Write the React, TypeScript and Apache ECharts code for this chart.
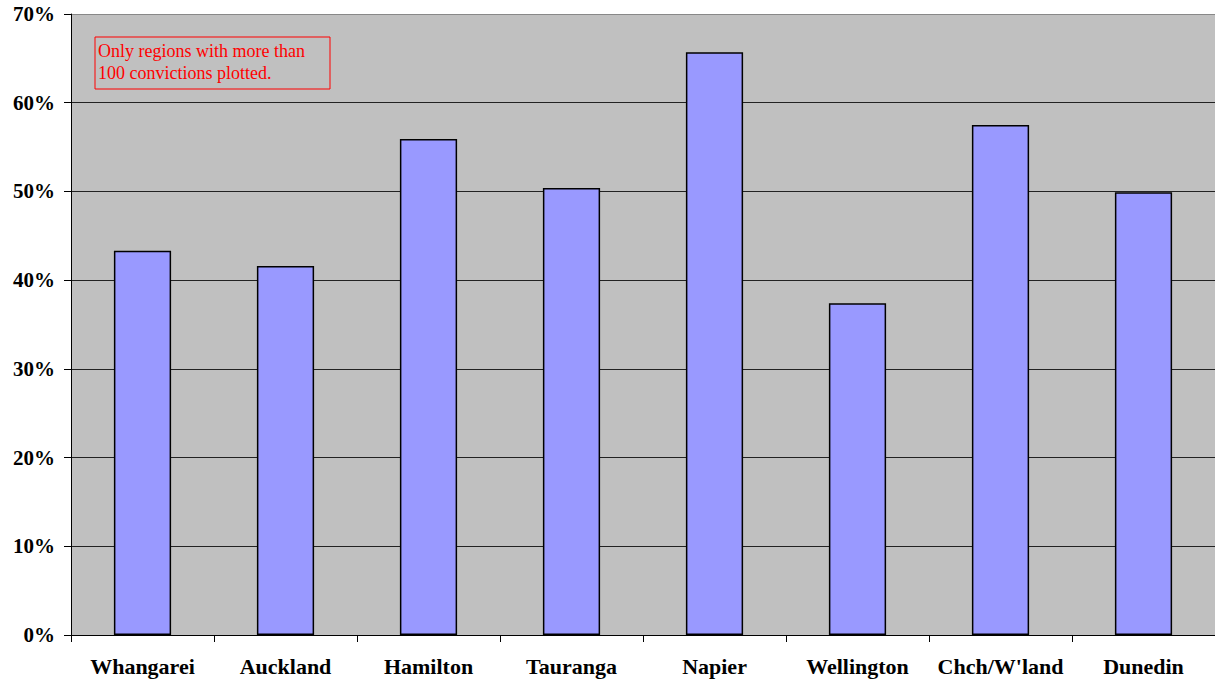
import React, { useEffect, useRef } from "react";
import * as echarts from "echarts";

const categories = ["Whangarei", "Auckland", "Hamilton", "Tauranga", "Napier", "Wellington", "Chch/W'land", "Dunedin"];
const values = [43.3, 41.6, 55.9, 50.4, 65.7, 37.4, 57.5, 49.9];
const noteLines = ["Only regions with more than", "100 convictions plotted."];

export default function App() {
  const ref = useRef<HTMLDivElement>(null);
  useEffect(() => {
    const chart = echarts.init(ref.current!, null, { renderer: "svg" });
    chart.setOption({
      animation: false,
      backgroundColor: "#ffffff",
      grid: { left: 71, right: 0, top: 14, bottom: 46, show: true, backgroundColor: "#c0c0c0", borderWidth: 0 },
      xAxis: {
        type: "category",
        data: categories,
        axisLine: { show: true, lineStyle: { color: "#000", width: 1 } },
        axisTick: { show: true, interval: 0, length: 7, lineStyle: { color: "#000" } },
        axisLabel: {
          interval: 0,
          margin: 20,
          color: "#000",
          fontFamily: "Liberation Serif",
          fontWeight: "bold",
          fontSize: 22,
        },
      },
      yAxis: {
        type: "value",
        min: 0,
        max: 70,
        interval: 10,
        axisLine: { show: true, lineStyle: { color: "#000", width: 1 } },
        axisTick: { show: true, length: 7, lineStyle: { color: "#000" } },
        axisLabel: {
          margin: 16,
          formatter: "{value}%",
          color: "#000",
          fontFamily: "Liberation Serif",
          fontWeight: "bold",
          fontSize: 21,
        },
        splitLine: {
          show: true,
          lineStyle: {
            color: ["#000", "#222", "#222", "#222", "#222", "#222", "#222", "#888"],
            width: 1,
          },
        },
      },
      series: [
        {
          type: "bar",
          data: values,
          barCategoryGap: "60%",
          itemStyle: { color: "#9999ff", borderColor: "#000", borderWidth: 1.5 },
        },
      ],
      graphic: [
        {
          type: "text",
          x: 95,
          y: 37,
          z: 100,
          style: {
            text: noteLines.join("\n"),
            fill: "#ff0000",
            font: "18px 'Liberation Serif'",
            lineHeight: 22,
            width: 224,
            overflow: "none",
            borderColor: "#ff0000",
            borderWidth: 1,
            padding: [3, 8, 5, 3],
          },
        },
      ],
    });
    return () => chart.dispose();
  }, []);
  return <div ref={ref} style={{ position: "fixed", left: 0, top: 0, width: 1215, height: 681 }} />;
}
